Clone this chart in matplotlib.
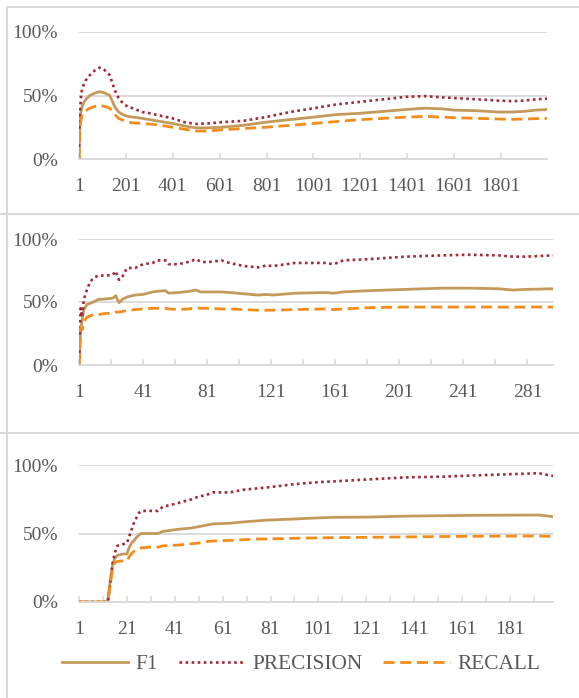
import numpy as np
import matplotlib
matplotlib.use("Agg")
import matplotlib.pyplot as plt
from matplotlib.lines import Line2D
from matplotlib.ticker import FixedLocator, PercentFormatter

plt.rcParams['font.family'] = ['Liberation Serif', 'DejaVu Serif']

# panel 1 : ~2000 records
idx1 = [1, 3, 6, 10, 14, 20, 30, 47, 70, 90, 110, 132, 154, 170, 188, 210, 230, 270, 303, 350,
        400, 450, 500, 550, 609, 700, 798, 900, 1003, 1100, 1200, 1300, 1397, 1477, 1550, 1601,
        1700, 1789, 1850, 1900, 1950, 1997]
f1_1 = [0, 0.22, 0.32, 0.38, 0.41, 0.44, 0.47, 0.50, 0.52, 0.53, 0.52, 0.50, 0.41, 0.37, 0.35, 0.335,
        0.33, 0.32, 0.31, 0.295, 0.28, 0.26, 0.245, 0.245, 0.25, 0.265, 0.29, 0.31, 0.33, 0.35, 0.36,
        0.375, 0.39, 0.40, 0.395, 0.385, 0.38, 0.37, 0.37, 0.375, 0.385, 0.39]
prec_1 = [0, 0.30, 0.40, 0.50, 0.55, 0.58, 0.62, 0.66, 0.70, 0.72, 0.70, 0.66, 0.54, 0.48, 0.44, 0.41,
          0.40, 0.37, 0.36, 0.34, 0.32, 0.29, 0.276, 0.28, 0.29, 0.30, 0.33, 0.37, 0.40, 0.43, 0.45,
          0.47, 0.49, 0.495, 0.485, 0.48, 0.47, 0.46, 0.455, 0.46, 0.47, 0.475]
rec_1 = [0, 0.18, 0.26, 0.31, 0.34, 0.36, 0.38, 0.40, 0.415, 0.42, 0.415, 0.40, 0.35, 0.32, 0.305, 0.29,
         0.285, 0.28, 0.275, 0.265, 0.25, 0.235, 0.22, 0.22, 0.23, 0.24, 0.25, 0.265, 0.28, 0.295, 0.31,
         0.32, 0.33, 0.335, 0.33, 0.325, 0.32, 0.315, 0.312, 0.315, 0.318, 0.32]

# panel 2 : ~300 records
idx2 = [1, 2, 3, 4, 6, 8, 10, 13, 18, 22, 24, 25, 26, 28, 31, 36, 41, 47, 50, 55, 57, 63, 70, 74,
        77, 81, 90, 95, 104, 113, 118, 122, 136, 155, 160, 166, 182, 205, 228, 245, 263, 272, 280, 297]
f1_2 = [0, 0.28, 0.36, 0.44, 0.48, 0.49, 0.50, 0.52, 0.525, 0.53, 0.55, 0.52, 0.495, 0.52, 0.54, 0.555,
        0.56, 0.58, 0.585, 0.59, 0.57, 0.575, 0.585, 0.595, 0.58, 0.58, 0.58, 0.575, 0.565, 0.555, 0.56,
        0.555, 0.57, 0.575, 0.57, 0.58, 0.59, 0.60, 0.61, 0.61, 0.605, 0.595, 0.60, 0.605]
prec_2 = [0, 0.45, 0.38, 0.52, 0.60, 0.66, 0.69, 0.71, 0.71, 0.715, 0.745, 0.70, 0.675, 0.70, 0.77, 0.77,
          0.80, 0.81, 0.83, 0.83, 0.80, 0.80, 0.82, 0.84, 0.82, 0.815, 0.83, 0.81, 0.785, 0.775, 0.79,
          0.785, 0.81, 0.81, 0.80, 0.83, 0.84, 0.86, 0.87, 0.875, 0.87, 0.86, 0.86, 0.87]
rec_2 = [0, 0.30, 0.28, 0.34, 0.38, 0.39, 0.40, 0.40, 0.41, 0.41, 0.42, 0.42, 0.42, 0.425, 0.43, 0.44,
         0.445, 0.45, 0.45, 0.45, 0.445, 0.44, 0.445, 0.455, 0.45, 0.45, 0.445, 0.445, 0.44, 0.435,
         0.435, 0.435, 0.44, 0.445, 0.44, 0.445, 0.455, 0.46, 0.46, 0.46, 0.46, 0.458, 0.46, 0.46]

# panel 3 : ~200 records
idx3 = [1, 13, 14, 15, 16, 17, 19, 21, 22, 23, 24, 26, 27, 30, 34, 36, 42, 48, 51, 54, 57, 64, 67,
        70, 76, 79, 91, 101, 107, 122, 138, 153, 168, 193, 199]
f1_3 = [0, 0, 0.15, 0.27, 0.32, 0.34, 0.35, 0.35, 0.40, 0.43, 0.45, 0.49, 0.50, 0.50, 0.50, 0.515,
        0.53, 0.54, 0.55, 0.56, 0.57, 0.575, 0.58, 0.585, 0.593, 0.597, 0.606, 0.614, 0.618, 0.62,
        0.627, 0.63, 0.633, 0.635, 0.623]
prec_3 = [0, 0, 0.12, 0.28, 0.36, 0.41, 0.42, 0.43, 0.48, 0.53, 0.58, 0.65, 0.665, 0.665, 0.665, 0.695,
          0.72, 0.75, 0.77, 0.78, 0.80, 0.80, 0.81, 0.82, 0.83, 0.835, 0.86, 0.875, 0.88, 0.895, 0.91,
          0.915, 0.925, 0.94, 0.92]
rec_3 = [0, 0, 0.12, 0.24, 0.29, 0.295, 0.30, 0.30, 0.33, 0.355, 0.37, 0.39, 0.395, 0.40, 0.40, 0.41,
         0.415, 0.425, 0.43, 0.44, 0.445, 0.45, 0.452, 0.455, 0.46, 0.46, 0.465, 0.468, 0.47, 0.472,
         0.475, 0.478, 0.48, 0.482, 0.478]

panels = [
    (idx1, f1_1, prec_1, rec_1, 1997, 200, 200, range(1, 1802, 200)),
    (idx2, f1_2, prec_2, rec_2, 297, 40, 20, range(1, 282, 40)),
    (idx3, f1_3, prec_3, rec_3, 199, 20, 10, range(1, 182, 20)),
]

c_f1 = '#C49A5C'
c_prec = '#9E2A3A'
c_rec = '#F28C1A'
grid = '#D9D9D9'
txt = '#595959'

W, H = 579, 698
fig = plt.figure(figsize=(W / 100, H / 100), dpi=100)

# axes boxes in pixels: left, right, top(100%), bottom(0%)
boxes = [(79, 547, 32, 159), (79, 553, 239, 365), (79, 553, 465, 602)]

for (ix, f1, pr, rc, n, lab_step, tick_step, labs), (l, r, t, b) in zip(panels, boxes):
    ax = fig.add_axes([l / W, (H - b) / H, (r - l) / W, (b - t) / H])
    ax.plot(ix, f1, color=c_f1, lw=2.0, solid_joinstyle='round', label='F1')
    ax.plot(ix, pr, color=c_prec, lw=1.9, linestyle=(0, (1, 1.3)), label='PRECISION')
    ax.plot(ix, rc, color=c_rec, lw=2.0, linestyle=(0, (4, 2)), label='RECALL')
    ax.set_xlim(1, n)
    ax.set_ylim(0, 1)
    ax.yaxis.set_major_locator(FixedLocator([0, 0.5, 1]))
    ax.yaxis.set_major_formatter(PercentFormatter(1.0, decimals=0))
    ax.xaxis.set_major_locator(FixedLocator(list(labs)))
    ax.xaxis.set_minor_locator(FixedLocator(list(range(1, n + 1, tick_step))))
    ax.set_xticklabels([str(v) for v in labs])
    ax.grid(axis='y', color=grid, lw=1.3)
    ax.set_axisbelow(True)
    for s in ['top', 'right', 'left']:
        ax.spines[s].set_visible(False)
    ax.spines['bottom'].set_color(grid)
    ax.spines['bottom'].set_linewidth(1.3)
    ax.tick_params(axis='y', length=0, pad=15, labelsize=14, labelcolor=txt)
    ax.tick_params(axis='x', which='both', direction='in', length=4, width=1.1, color=grid,
                   labelsize=14, labelcolor=txt, pad=14)
    last = ax

handles, labels = last.get_legend_handles_labels()
fig.legend(handles, labels, loc='center', bbox_to_anchor=(301 / W, (H - 664) / H), ncol=3,
           frameon=False, fontsize=15.4, labelcolor=txt, handlelength=3.1, handletextpad=0.37,
           columnspacing=0.95)

# panel frames
def fline(x0, y0, x1, y1):
    fig.add_artist(Line2D([x0 / W, x1 / W], [(H - y0) / H, (H - y1) / H],
                          transform=fig.transFigure, color=grid, lw=1.5))

fline(7, 7, 7, H)
fline(7, 7, W, 7)
fline(0, 213.5, W, 213.5)
fline(0, 433, W, 433)

fig.savefig('out.png', dpi=100)
